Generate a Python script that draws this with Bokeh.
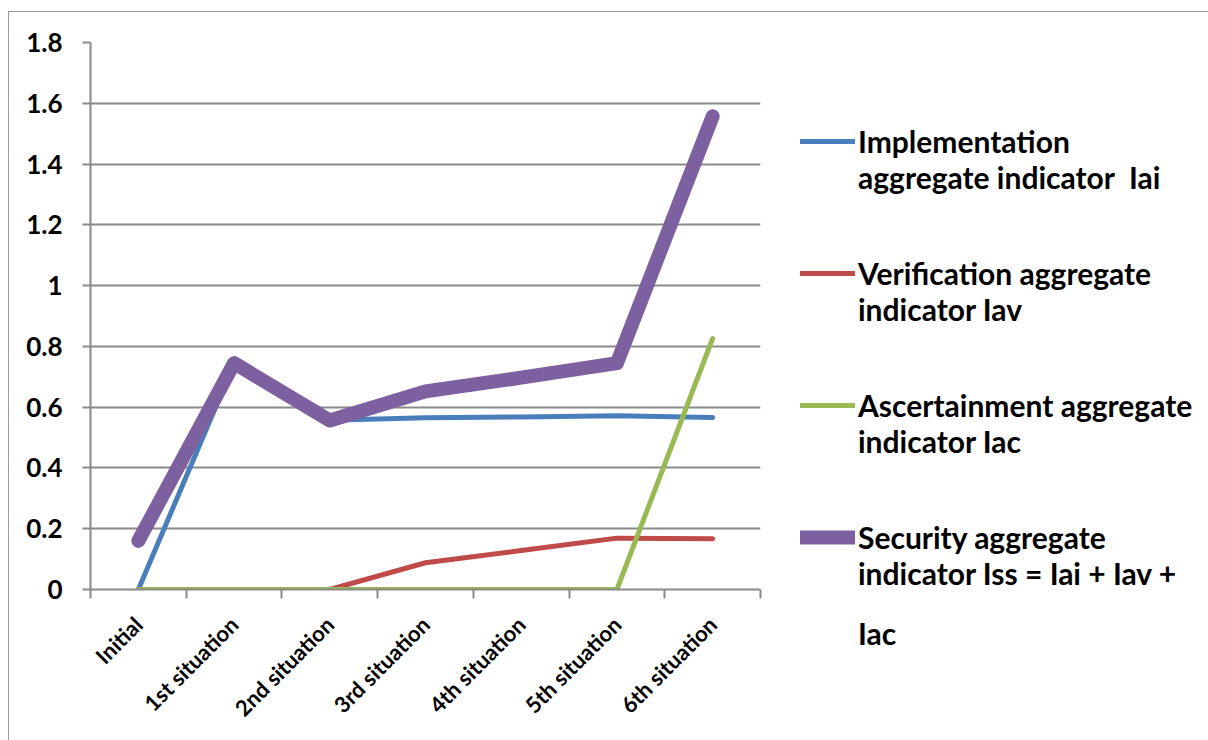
from math import pi
from bokeh.plotting import figure
from bokeh.models import FixedTicker, Legend, LegendItem, Range1d
from bokeh.embed import file_html
from bokeh.resources import INLINE

categories = ["Initial", "1st situation", "2nd situation", "3rd situation",
              "4th situation", "5th situation", "6th situation"]
iai = [0.0, 0.743, 0.557, 0.565, 0.568, 0.572, 0.566]
iav = [0.0, 0.0, 0.0, 0.088, 0.128, 0.169, 0.167]
iac = [0.0, 0.0, 0.0, 0.0, 0.0, 0.0, 0.826]
iss = [0.160, 0.745, 0.556, 0.652, 0.697, 0.745, 1.557]
y_ticks = [0, 0.2, 0.4, 0.6, 0.8, 1.0, 1.2, 1.4, 1.6, 1.8]
y_tick_labels = ["0", "0.2", "0.4", "0.6", "0.8", "1", "1.2", "1.4", "1.6", "1.8"]
series_labels = [
    ["Implementation", "aggregate indicator  Iai"],
    ["Verification aggregate", "indicator Iav"],
    ["Ascertainment aggregate", "indicator Iac"],
    ["Security aggregate", "indicator Iss = Iai + Iav +", "Iac"],
]

xs = [i + 0.5 for i in range(len(categories))]
FONT = "Lato"
GRID = "#8a8a8a"
FRAME_W, FRAME_H = 670, 547

p = figure(x_range=Range1d(0, len(categories)), y_range=Range1d(0, 1.8),
           frame_width=FRAME_W, frame_height=FRAME_H,
           min_border_left=81, min_border_right=449,
           min_border_top=30, min_border_bottom=152,
           output_backend="svg", toolbar_location=None,
           margin=(11, 0, 0, 8))
p.styles = {"border-left": "1px solid #9a9a9a", "border-top": "1px solid #9a9a9a"}
p.outline_line_color = None
p.background_fill_color = "white"
p.border_fill_color = "white"

# x axis
p.xaxis.ticker = FixedTicker(ticks=xs, minor_ticks=list(range(len(categories) + 1)))
p.xaxis.major_label_overrides = {x: c for x, c in zip(xs, categories)}
p.xaxis.major_tick_out = 0
p.xaxis.major_tick_in = 0
p.xaxis.minor_tick_out = 9
p.xaxis.minor_tick_in = 0
p.xaxis.minor_tick_line_color = GRID
p.xaxis.minor_tick_line_width = 2
p.xaxis.axis_line_color = GRID
p.xaxis.axis_line_width = 2
p.xaxis.major_label_orientation = pi / 4
p.xaxis.major_label_standoff = 22
p.xaxis.major_label_text_font = FONT
p.xaxis.major_label_text_font_style = "bold"
p.xaxis.major_label_text_font_size = "22px"
p.xaxis.major_label_text_color = "black"
p.xgrid.visible = False

# y axis
p.yaxis.ticker = FixedTicker(ticks=y_ticks, minor_ticks=[])
p.yaxis.major_label_overrides = {t: l for t, l in zip(y_ticks, y_tick_labels)}
p.yaxis.major_tick_out = 8
p.yaxis.major_tick_in = 0
p.yaxis.major_tick_line_color = GRID
p.yaxis.major_tick_line_width = 2
p.yaxis.axis_line_color = GRID
p.yaxis.axis_line_width = 2
p.yaxis.major_label_standoff = 20
p.yaxis.major_label_text_font = FONT
p.yaxis.major_label_text_font_style = "bold"
p.yaxis.major_label_text_font_size = "26px"
p.yaxis.major_label_text_color = "black"
p.ygrid.ticker = FixedTicker(ticks=y_ticks, minor_ticks=[])
p.ygrid.grid_line_color = GRID
p.ygrid.grid_line_width = 2

r1 = p.line(xs, iai, line_color="#4A7EBB", line_width=5, line_cap="round", line_join="round")
r2 = p.line(xs, iav, line_color="#BE4B48", line_width=5, line_cap="round", line_join="round")
r3 = p.line(xs, iac, line_color="#98B954", line_width=5, line_cap="round", line_join="round")
r4 = p.line(xs, iss, line_color="#7D60A0", line_width=14, line_cap="round", line_join="round")
renderers = [r1, r2, r3, r4]

# Legend: each entry gets a blank line above its two text lines so the sample
# line is centred on the first text line; a third text line goes in its own item.
items = []
for lines, r in zip(series_labels, renderers):
    items.append(LegendItem(label="\n" + "\n".join(lines[:2]), renderers=[r]))
    for extra in lines[2:]:
        ghost = p.line(x=[], y=[], line_alpha=0)
        items.append(LegendItem(label=extra, renderers=[ghost]))

legend = Legend(items=items, location=(40, -62))
legend.glyph_width = 55
legend.glyph_height = 20
legend.label_standoff = 3
legend.spacing = 24
legend.padding = 0
legend.margin = 0
legend.border_line_color = None
legend.background_fill_alpha = 0
legend.label_text_font = FONT
legend.label_text_font_style = "bold"
legend.label_text_font_size = "30px"
legend.label_text_line_height = 1.48
legend.label_text_color = "black"
p.add_layout(legend, "right")

open("out.html", "w").write(file_html(p, INLINE))
